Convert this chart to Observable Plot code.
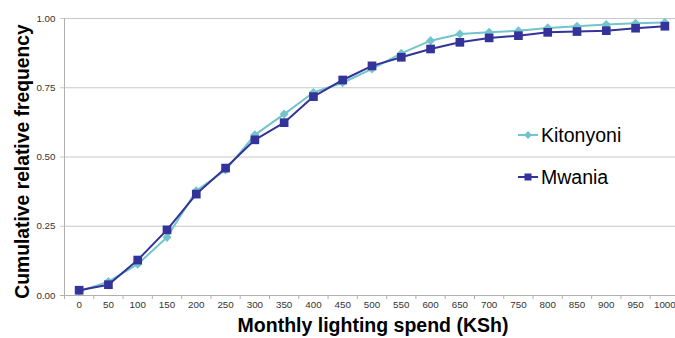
<!DOCTYPE html>
<html>
<head>
<meta charset="utf-8">
<script src="https://cdn.jsdelivr.net/npm/d3@7"></script>
<script src="https://cdn.jsdelivr.net/npm/@observablehq/plot@0.6"></script>
<style>
  html, body { margin: 0; padding: 0; background: #fff; }
  #wrap { position: relative; width: 675px; height: 338px; overflow: hidden; font-family: "Liberation Sans", Arial, sans-serif; }
  .leg { position: absolute; left: 518px; display: flex; align-items: center; font-size: 19.5px; color: #000; line-height: 22px; }
  .leg svg { margin-right: 3px; }
</style>
</head>
<body>
<div id="wrap"></div>
<script>
// Data
const spend = [0, 50, 100, 150, 200, 250, 300, 350, 400, 450, 500, 550, 600, 650, 700, 750, 800, 850, 900, 950, 1000];
const kitonyoni = [0.015, 0.05, 0.113, 0.21, 0.378, 0.453, 0.58, 0.655, 0.733, 0.768, 0.818, 0.874, 0.92, 0.944, 0.95, 0.956, 0.966, 0.972, 0.978, 0.983, 0.986];
const mwania = [0.019, 0.039, 0.128, 0.237, 0.366, 0.46, 0.562, 0.624, 0.718, 0.778, 0.829, 0.86, 0.89, 0.914, 0.93, 0.938, 0.95, 0.953, 0.956, 0.965, 0.972];
const yTicks = [0, 0.25, 0.5, 0.75, 1];
const seriesNames = ["Kitonyoni", "Mwania"];
const seriesColors = ["#72C5CA", "#333399"];

const rowsK = spend.map((s, i) => ({spend: s, value: kitonyoni[i]}));
const rowsM = spend.map((s, i) => ({spend: s, value: mwania[i]}));
const boundaries = d3.range(spend.length + 1).map(i => spend[0] - 25 + i * 50);

const chart = Plot.plot({
  width: 675,
  height: 338,
  marginLeft: 64,
  marginRight: 0,
  marginTop: 18,
  marginBottom: 43,
  style: {fontFamily: "'Liberation Sans', Arial, sans-serif", background: "#fff"},
  x: {type: "linear", domain: [-25, 1025], range: [64, 679]},
  y: {domain: [0, 1]},
  marks: [
    Plot.ruleY(yTicks.slice(1), {stroke: "#c8c8c8", strokeWidth: 1, insetLeft: -4}),
    Plot.ruleY([0], {stroke: "#b0b0b0", strokeWidth: 1, insetLeft: -4}),
    Plot.ruleX([-25], {stroke: "#b0b0b0", strokeWidth: 1}),
    Plot.axisY(yTicks, {tickFormat: d3.format(".2f"), tickSize: 0, tickPadding: 9, fontSize: 9.8, color: "#333", label: null}),
    Plot.axisX(boundaries, {tickSize: 4, stroke: "#b0b0b0", text: null, label: null}),
    Plot.axisX(spend, {tickSize: 0, tickPadding: 6, fontSize: 9.8, color: "#333", tickFormat: d => String(d), label: null}),
    Plot.line(rowsK, {x: "spend", y: "value", stroke: seriesColors[0], strokeWidth: 2}),
    Plot.dot(rowsK, {x: "spend", y: "value", symbol: "diamond2", r: 4.1, fill: seriesColors[0], stroke: "none"}),
    Plot.line(rowsM, {x: "spend", y: "value", stroke: seriesColors[1], strokeWidth: 2}),
    Plot.dot(rowsM, {x: "spend", y: "value", symbol: "square", r: 4.9, fill: seriesColors[1], stroke: "none"}),
    Plot.text(["Monthly lighting spend (KSh)"], {frameAnchor: "bottom", dx: 3, dy: 36, fontSize: 19.5, fontWeight: "bold", fill: "#000", textAnchor: "middle"}),
    Plot.text(["Cumulative relative frequency"], {frameAnchor: "left", dx: -42, dy: 4.5, rotate: -90, fontSize: 19.3, fontWeight: "bold", fill: "#000", textAnchor: "middle"})
  ]
});
document.getElementById("wrap").appendChild(chart);

// Legend
const legendTops = [124, 166];
const symbols = [
  '<polygon points="10,1 14,5 10,9 6,5"/>',
  '<rect x="6.5" y="1.5" width="7" height="7"/>'
];
seriesNames.forEach((name, i) => {
  const div = document.createElement("div");
  div.className = "leg";
  div.style.top = legendTops[i] + "px";
  div.innerHTML = `<svg width="20" height="10"><line x1="0" y1="5" x2="20" y2="5" stroke="${seriesColors[i]}" stroke-width="2"/><g fill="${seriesColors[i]}">${symbols[i]}</g></svg><span>${name}</span>`;
  document.getElementById("wrap").appendChild(div);
});
</script>
</body>
</html>
